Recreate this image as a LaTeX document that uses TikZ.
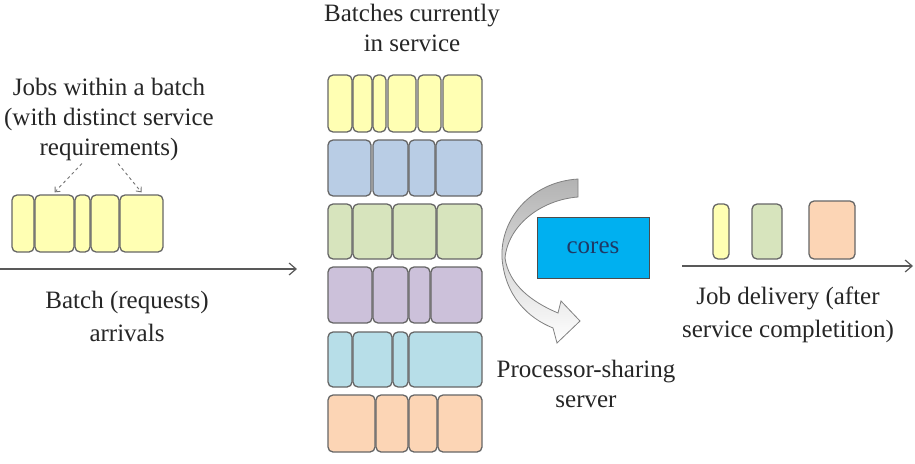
\documentclass[tikz,border=0pt]{standalone}
\usepackage{fontspec}
\setmainfont{LiberationSerif}[Extension=.ttf, UprightFont=*-Regular, BoldFont=*-Bold, ItalicFont=*-Italic, BoldItalicFont=*-BoldItalic]
\usepackage{tikz}
\usetikzlibrary{arrows.meta,positioning}
\definecolor{jbYellow}{HTML}{FFFFB3}
\definecolor{jbBlue}{HTML}{B9CDE5}
\definecolor{jbGreen}{HTML}{D7E4BD}
\definecolor{jbPurple}{HTML}{CCC1DA}
\definecolor{jbCyan}{HTML}{B7DEE8}
\definecolor{jbOrange}{HTML}{FCD5B5}
\definecolor{coreBlue}{HTML}{00B0F0}
\definecolor{coreText}{HTML}{1F3864}
\definecolor{txtGray}{HTML}{262626}

\begin{document}
\begin{tikzpicture}[
  x=1pt, y=-1pt,
  >={Straight Barb[length=7pt,width=12pt]},
  every node/.style={font=\fontsize{25}{30}\selectfont, text=txtGray},
  lbl/.style={align=center, inner sep=0pt},
  job/.style={draw=black!60, line width=1.3pt, rounded corners=5pt},
  jb/.style={job, minimum height=57pt, inner sep=0pt},
  flow/.style={->, draw=black!65, line width=1.2pt},
  hint/.style={-{Straight Barb[length=4pt,width=7pt]}, draw=black!55, dashed, line width=0.9pt},
]
  \useasboundingbox (0,0) rectangle (915,463);

  % labels
  \node[lbl] (jobs) at (109,119) {Jobs within a batch\\(with distinct service\\requirements)};
  \node[lbl] (batches) at (412,28) {Batches currently\\in service};
  \node[lbl,font=\fontsize{25}{33}\selectfont] (arrivals) at (127,316) {Batch (requests)\\arrivals};
  \node[lbl] (server) at (586,384) {Processor-sharing\\server};
  \node[lbl,font=\fontsize{25}{33}\selectfont] (delivery) at (788,315) {Job delivery (after\\service completition)};

  % incoming batch
  \node[jb,fill=jbYellow,minimum width=22pt] (j1) at (23,223.5) {};
  \node[jb,fill=jbYellow,minimum width=39pt] (j2) at (54.5,223.5) {};
  \node[jb,fill=jbYellow,minimum width=15pt] (j3) at (82.5,223.5) {};
  \node[jb,fill=jbYellow,minimum width=28pt] (j4) at (105,223.5) {};
  \node[jb,fill=jbYellow,minimum width=43pt] (j5) at (141.5,223.5) {};

  \draw[hint] ([xshift=-27pt,yshift=-3pt]jobs.south) -- ([yshift=2pt]j2.north);
  \draw[hint] ([xshift=9pt,yshift=-3pt]jobs.south) -- ([yshift=2pt]j5.north);

  \coordinate (inL) at (0,269);
  \coordinate (inR) at (297,269);
  \draw[flow] (inL) -- (inR);

  % batches in service
  \foreach \a/\b in {328/352,353/372,373/386,388/416,418/441,443/482}
    \draw[job,fill=jbYellow] (\a,75) rectangle (\b,132);
  \foreach \a/\b in {328/371,373/408,409/435,436/482}
    \draw[job,fill=jbBlue] (\a,140) rectangle (\b,196);
  \foreach \a/\b in {328/352,353/392,393/436,437/482}
    \draw[job,fill=jbGreen] (\a,204) rectangle (\b,259);
  \foreach \a/\b in {328/372,373/408,409/430,431/482}
    \draw[job,fill=jbPurple] (\a,267) rectangle (\b,323);
  \foreach \a/\b in {328/352,353/392,393/408,409/482}
    \draw[job,fill=jbCyan] (\a,332) rectangle (\b,387);
  \foreach \a/\b in {328/375,376/408,409/437,438/482}
    \draw[job,fill=jbOrange] (\a,395) rectangle (\b,452);

  % server
  \draw[draw=black!50, line width=0.8pt, top color=black!30, bottom color=white]
    (578,179) .. controls (530,182) and (500,220) .. (502,258)
    .. controls (505,296) and (528,318) .. (553,328)
    -- (557,343) -- (580,321) -- (561,301) -- (558,313)
    .. controls (532,302) and (509,285) .. (505,258)
    .. controls (508,226) and (540,200) .. (578,197) -- cycle;
  \node[draw=black!70, line width=0.9pt, fill=coreBlue, minimum width=112pt,
        minimum height=61pt, text=coreText] (cores) at (593,247.5) {cores};

  % delivered jobs
  \node[job,fill=jbYellow,inner sep=0pt,minimum width=16pt,minimum height=55pt] (o1) at (721,231.5) {};
  \node[job,fill=jbGreen,inner sep=0pt,minimum width=30pt,minimum height=55pt] (o2) at (767,231.5) {};
  \node[job,fill=jbOrange,inner sep=0pt,minimum width=46pt,minimum height=58pt] (o3) at (832,230) {};

  \coordinate (outL) at (682,266);
  \coordinate (outR) at (913,266);
  \draw[flow] (outL) -- (outR);
\end{tikzpicture}
\end{document}
